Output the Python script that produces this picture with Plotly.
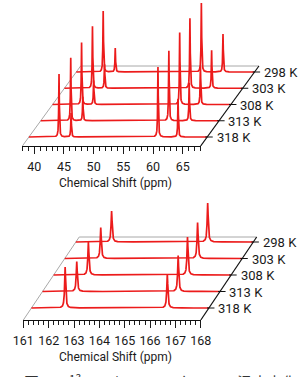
import numpy as np
import plotly.graph_objects as go

W, H = 308, 377

temps = ["298 K", "303 K", "308 K", "313 K", "318 K"]  # back -> front

# ---------- upper spectra (38-68 ppm) ----------
top_range = [38, 68]
top_ppm_a = [42.53, 42.72, 42.88, 43.05, 43.07]
top_ppm_b = [44.56, 44.75, 44.91, 45.08, 45.10]
top_ppm_c = [59.05, 59.12, 59.39, 59.56, 59.72]
top_ppm_d = [62.69, 62.77, 62.88, 62.98, 63.10]
top_h_a = [61, 62, 62, 63, 63]
top_h_b = [24, 24, 24, 24, 24]
top_h_c = [69, 70, 72, 70, 70]
top_h_d = [38, 38, 38, 38, 38]

# ---------- lower spectra (161-168 ppm) ----------
bot_range = [161, 168]
bot_ppm_e = [162.41, 162.42, 162.37, 162.35, 162.33]
bot_ppm_f = [166.20, 166.24, 166.28, 166.35, 166.36]
bot_h_e = [31, 31, 33, 30, 41]
bot_h_f = [39, 36, 38, 36, 34]

x_title = "Chemical Shift (ppm)"
caption = "図１　¹³C CP/MASスペクトルの温度変化"

FN = "Roboto, Liberation Sans, sans-serif"
RED = "#ec1b1b"
INK = "#1a1a1a"

PLOT_X0, PLOT_X1 = 12, 282  # pixel extent of the drawing area

panels = [
    dict(name="top", rng=top_range, major=5, minor=1, tick0=40,
         ppms=[top_ppm_a, top_ppm_b, top_ppm_c, top_ppm_d],
         hts=[top_h_a, top_h_b, top_h_c, top_h_d],
         front_px=146, top_px=0, x0_px=12.2, ppm_px=6.4,
         base0=9, step=16.25, slope=0.785, depth=80, fwhm=0.12, gstep=0.01,
         title_y=183, xa="x", ya="y", fa="x3"),
    dict(name="bot", rng=bot_range, major=1, minor=0.2, tick0=161,
         ppms=[bot_ppm_e, bot_ppm_f],
         hts=[bot_h_e, bot_h_f],
         front_px=320, top_px=196, x0_px=13.3, ppm_px=27.3,
         base0=12, step=16.5, slope=0.725, depth=83, fwhm=0.05, gstep=0.002,
         title_y=357, xa="x2", ya="y2", fa="x4"),
]

fig = go.Figure()
annotations = []
layout_axes = {}


def xd(a, b):
    return [a / W, b / W]


def yd(top, bottom):
    return [1 - bottom / H, 1 - top / H]


for P in panels:
    r0, r1 = P["rng"]
    pp = P["ppm_px"]
    sl = P["slope"]
    xa, ya = P["xa"], P["ya"]
    to_ppm = lambda px: px / pp  # pixel offset -> ppm offset

    # frame (oblique base plane)
    D = P["depth"]
    dshift = to_ppm(D * sl)
    fig.add_trace(go.Scatter(x=[r0, r0 + dshift, r1 + dshift], y=[0, D, D],
                             mode="lines", line=dict(color="#a8a8a8", width=1),
                             xaxis=xa, yaxis=ya, hoverinfo="skip"))

    # spectra, back to front
    grid = np.arange(r0, r1 + P["gstep"] / 2, P["gstep"])
    hw = P["fwhm"] / 2
    nt = len(temps)
    for i, t in enumerate(temps):
        k = nt - 1 - i
        base = P["base0"] + P["step"] * k
        peaks = [plist[i] for plist in P["ppms"]]
        g = np.union1d(grid, np.array(peaks))
        spec = np.zeros_like(g)
        for p, hl in zip(peaks, [hlist[i] for hlist in P["hts"]]):
            spec += hl / (1 + ((g - p) / hw) ** 2)
        fig.add_trace(go.Scatter(x=g + to_ppm(base * sl), y=spec + base,
                                 mode="lines", line=dict(color=RED, width=1.7),
                                 xaxis=xa, yaxis=ya, hoverinfo="skip"))

    # right edge with temperature ticks
    fig.add_trace(go.Scatter(x=[r1, r1 + dshift], y=[0, D], mode="lines",
                             line=dict(color="#111111", width=1.2),
                             xaxis=xa, yaxis=ya, hoverinfo="skip"))
    dx, dy = [], []
    for i, t in enumerate(temps):
        k = nt - 1 - i
        base = P["base0"] + P["step"] * k
        ex = r1 + to_ppm(base * sl)
        dx += [ex - to_ppm(2), ex + to_ppm(6), None]
        dy += [base, base, None]
        edge_px = P["x0_px"] + (r1 - r0) * pp + base * sl
        annotations.append(dict(
            text=t, xref="paper", yref="paper",
            x=(edge_px + 8) / W, y=1 - (P["front_px"] - base + 0.5) / H,
            xanchor="left", yanchor="middle", showarrow=False,
            font=dict(family=FN, size=13, color=INK)))
    fig.add_trace(go.Scatter(x=dx, y=dy, mode="lines",
                             line=dict(color="#111111", width=1.2),
                             xaxis=xa, yaxis=ya, hoverinfo="skip"))

    # dummy trace for front axis
    fig.add_trace(go.Scatter(x=[r0, r1], y=[-500, -500], mode="lines",
                             xaxis=P["fa"], yaxis=ya, hoverinfo="skip"))

    xr = [r0 + (PLOT_X0 - P["x0_px"]) / pp, r0 + (PLOT_X1 - P["x0_px"]) / pp]
    front_end = P["x0_px"] + (r1 - r0) * pp
    key_x = "xaxis" if xa == "x" else "xaxis2"
    key_y = "yaxis" if ya == "y" else "yaxis2"
    key_f = "xaxis3" if P["fa"] == "x3" else "xaxis4"
    layout_axes[key_x] = dict(domain=xd(PLOT_X0, PLOT_X1), range=xr, visible=False,
                              anchor=ya, fixedrange=True)
    layout_axes[key_y] = dict(domain=yd(P["top_px"], P["front_px"]),
                              range=[0, P["front_px"] - P["top_px"]],
                              visible=False, anchor=xa, fixedrange=True)
    layout_axes[key_f] = dict(
        domain=xd(P["x0_px"], front_end), range=[r0, r1], anchor=ya,
        showline=True, linecolor="#111111", linewidth=1.2,
        showgrid=False, zeroline=False,
        ticks="outside", ticklen=7, tickwidth=1, tickcolor=INK,
        tickmode="linear", tick0=P["tick0"], dtick=P["major"],
        minor=dict(ticks="outside", ticklen=4, tickwidth=1, tickcolor=INK,
                   tickmode="linear", tick0=r0, dtick=P["minor"]),
        tickfont=dict(family=FN, size=12.5, color=INK),
        ticklabelstandoff=2,
        fixedrange=True)

    annotations.append(dict(
        text=x_title, xref="paper", yref="paper", x=113 / W, y=1 - P["title_y"] / H,
        xanchor="center", yanchor="middle", showarrow=False,
        font=dict(family=FN, size=12, color=INK)))

annotations.append(dict(
    text=caption, xref="paper", yref="paper", x=12 / W, y=1 - 381 / H,
    xanchor="left", yanchor="middle", showarrow=False,
    font=dict(family="Noto Sans CJK JP", size=15, color="#333333")))

fig.update_traces(showlegend=False)
fig.update_layout(width=W, height=H, margin=dict(l=0, r=0, t=0, b=0),
                  paper_bgcolor="white", plot_bgcolor="rgba(0,0,0,0)",
                  showlegend=False, annotations=annotations, **layout_axes)

fig.write_html("out.html", config={"displayModeBar": False})
